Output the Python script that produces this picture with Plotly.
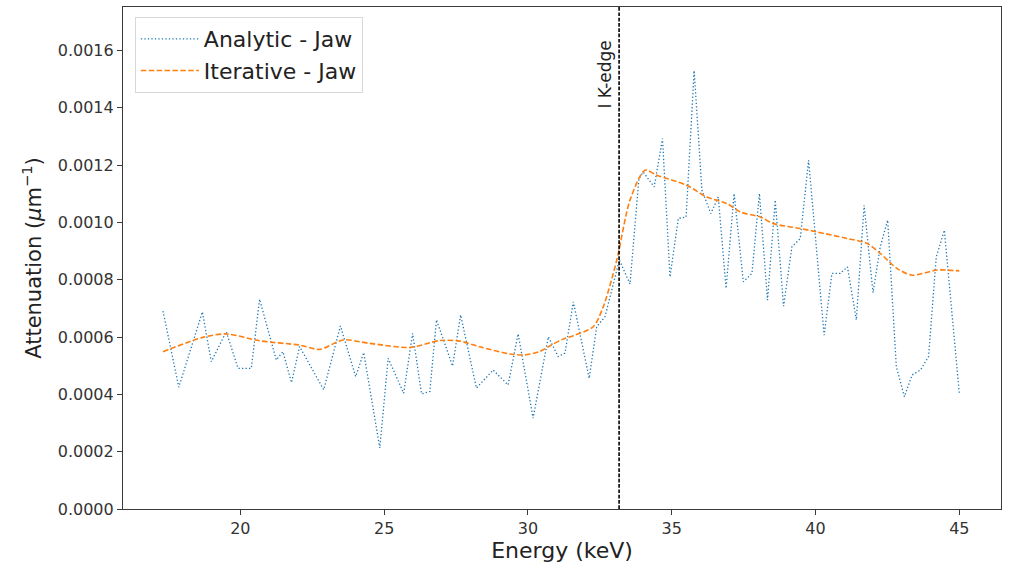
import plotly.graph_objects as go

# Analytic - Jaw (vertices)
analytic_energy = [17.31, 17.86, 18.68, 18.99, 19.51, 19.92, 20.38, 20.67, 21.25, 21.48,
                   21.78, 22.06, 22.90, 23.48, 24.01, 24.29, 24.85, 25.14, 25.68, 25.99,
                   26.30, 26.59, 26.82, 27.38, 27.66, 28.21, 28.79, 29.31, 29.66, 30.18,
                   30.71, 31.05, 31.29, 31.58, 32.13, 32.39, 32.68, 33.18, 33.55, 33.86,
                   34.01, 34.39, 34.68, 34.94, 35.23, 35.50, 35.78, 36.05, 36.36, 36.62,
                   36.89, 37.17, 37.49, 37.79, 38.05, 38.33, 38.60, 38.89, 39.18, 39.47,
                   39.76, 40.30, 40.57, 40.86, 41.11, 41.42, 41.69, 42.00, 42.25, 42.51,
                   42.81, 43.09, 43.36, 43.65, 43.93, 44.20, 44.48, 45.00]
analytic_atten = [0.000691, 0.000425, 0.000688, 0.000514, 0.000619, 0.000491, 0.000491, 0.000732, 0.000520, 0.000549,
                  0.000441, 0.000567, 0.000416, 0.000639, 0.000462, 0.000546, 0.000213, 0.000526, 0.000404, 0.000613,
                  0.000402, 0.000410, 0.000660, 0.000499, 0.000677, 0.000422, 0.000485, 0.000433, 0.000611, 0.000317,
                  0.000601, 0.000532, 0.000544, 0.000723, 0.000456, 0.000636, 0.000671, 0.000869, 0.000785, 0.001153,
                  0.001176, 0.001124, 0.001293, 0.000810, 0.001014, 0.001019, 0.001530, 0.001113, 0.001031, 0.001089,
                  0.000770, 0.001101, 0.000793, 0.000822, 0.001101, 0.000729, 0.001078, 0.000708, 0.000915, 0.000944,
                  0.001217, 0.000607, 0.000822, 0.000822, 0.000845, 0.000660, 0.001060, 0.000755, 0.000915, 0.001008,
                  0.000497, 0.000392, 0.000468, 0.000485, 0.000532, 0.000880, 0.000973, 0.000404]

# Iterative - Jaw
iterative_energy = [17.31, 18.70, 19.51, 20.67, 22.06, 22.76, 23.57, 24.50, 25.90, 26.94,
                    27.63, 28.33, 29.37, 29.90, 30.42, 30.77, 31.20, 31.58, 32.27, 32.62,
                    33.09, 33.55, 34.07, 34.48, 35.52, 36.22, 36.92, 37.38, 38.08, 38.54,
                    39.47, 40.05, 41.10, 41.79, 42.25, 42.83, 43.36, 44.23, 45.00]
iterative_atten = [0.000549, 0.000599, 0.000611, 0.000587, 0.000572, 0.000557, 0.000590, 0.000578, 0.000564, 0.000588,
                   0.000586, 0.000566, 0.000541, 0.000538, 0.000550, 0.000570, 0.000592, 0.000605, 0.000636, 0.000706,
                   0.000869, 0.001078, 0.001182, 0.001165, 0.001130, 0.001089, 0.001066, 0.001037, 0.001019, 0.000996,
                   0.000979, 0.000967, 0.000944, 0.000927, 0.000892, 0.000840, 0.000816, 0.000834, 0.000831]

k_edge_energy = 33.17
k_edge_label = "I K-edge"

x_ticks = [20, 25, 30, 35, 40, 45]
y_ticks = [0.0, 0.0002, 0.0004, 0.0006, 0.0008, 0.0010, 0.0012, 0.0014, 0.0016]

FONT = "DejaVu Sans"
AXIS_COLOR = "#3a3a3a"

fig = go.Figure()
fig.add_trace(go.Scatter(
    x=analytic_energy, y=analytic_atten, mode="lines", name="Analytic - Jaw",
    line=dict(color="#1f77b4", width=1.3, dash="1.3px,2.2px"),
))
fig.add_trace(go.Scatter(
    x=iterative_energy, y=iterative_atten, mode="lines", name="Iterative - Jaw",
    line=dict(color="#ff7f0e", width=1.6, dash="5.5px,2.4px", shape="spline", smoothing=0.8),
))

fig.add_shape(type="line", xref="x", yref="paper", x0=k_edge_energy, x1=k_edge_energy,
              y0=0, y1=1, line=dict(color="black", width=1.6, dash="3.7px,1.6px"))
fig.add_annotation(x=k_edge_energy, y=0.001642, xref="x", yref="y", text=k_edge_label,
                   textangle=-90, showarrow=False, xanchor="right", yanchor="top",
                   xshift=-3, font=dict(family=FONT, size=17, color="#222"))

fig.update_layout(
    width=1010, height=563,
    margin=dict(l=123, r=9, t=7, b=54, autoexpand=False),
    paper_bgcolor="white", plot_bgcolor="white",
    font=dict(family=FONT, color="#222"),
    showlegend=True,
    legend=dict(x=0.0135, y=0.98, xanchor="left", yanchor="top",
                bgcolor="white", bordercolor="#d8d8d8", borderwidth=1,
                font=dict(family=FONT, size=22, color="#222"),
                tracegroupgap=0, itemwidth=58),
)
fig.update_xaxes(
    range=[15.92, 46.45], tickvals=x_ticks, ticktext=[str(v) for v in x_ticks],
    showgrid=False, zeroline=False, showline=True, linecolor=AXIS_COLOR, linewidth=1.2,
    mirror=True, ticks="outside", ticklen=5, tickcolor=AXIS_COLOR, automargin=False,
    tickfont=dict(family=FONT, size=16, color="#333"),
    title=dict(text="Energy (keV)", font=dict(family=FONT, size=22, color="#222"), standoff=0),
)
fig.update_yaxes(
    range=[0, 0.001752], tickvals=y_ticks, tickformat=".4f",
    showgrid=False, zeroline=False, showline=True, linecolor=AXIS_COLOR, linewidth=1.2,
    mirror=True, ticks="outside", ticklen=5, tickcolor=AXIS_COLOR, automargin=False,
    tickfont=dict(family=FONT, size=16, color="#333"),
    title=dict(text="Attenuation (<i>μ</i>m<sup>−1</sup>)", font=dict(family=FONT, size=21, color="#222"), standoff=10),
)

fig.write_html("out.html", config={"displayModeBar": False},
               post_script="document.body.style.margin='0px';document.body.style.overflow='hidden';")
